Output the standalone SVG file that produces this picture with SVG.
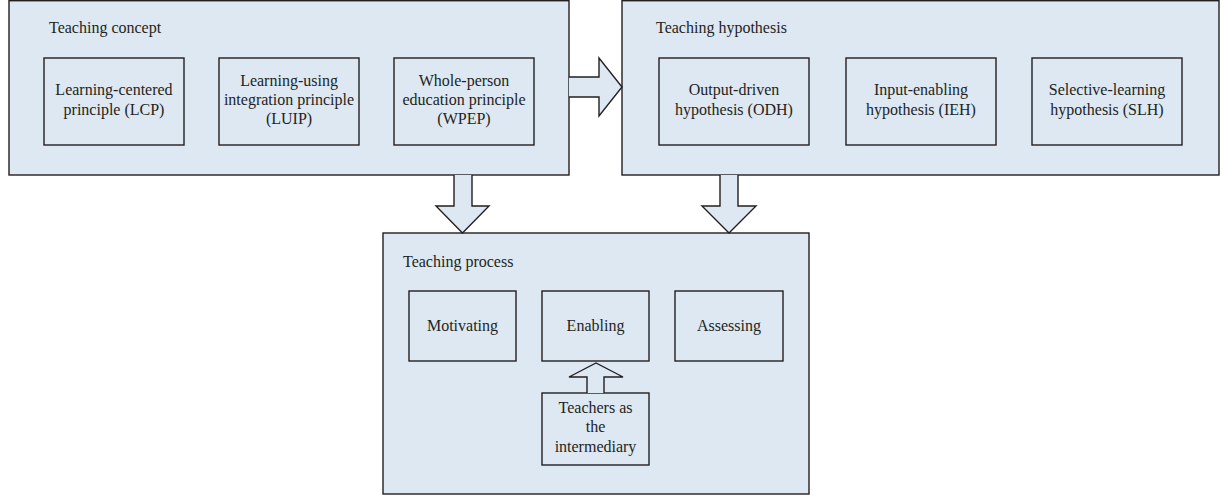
<svg xmlns="http://www.w3.org/2000/svg" width="1223" height="496" viewBox="0 0 1223 496">
  <style>
    .panel { fill: #dde8f3; stroke: #231f20; stroke-width: 1.4; }
    .item { fill: #dde8f3; stroke: #231f20; stroke-width: 1.4; }
    .arrow { fill: #dde8f3; stroke: #231f20; stroke-width: 1.4; stroke-linejoin: miter; }
    text { font-family: "Liberation Serif", "Times New Roman", serif; font-size: 16px; fill: #231f20; }
    .c { text-anchor: middle; }
  </style>
  <rect width="1223" height="496" fill="#ffffff"/>

  <!-- Teaching concept panel -->
  <g id="teaching-concept">
    <rect class="panel" x="9" y="0.7" width="560" height="174.3"/>
    <text x="49" y="33">Teaching concept</text>
    <g id="lcp">
      <rect class="item" x="44" y="58" width="140" height="87"/>
      <text class="c" x="114" y="95">Learning-centered</text>
      <text class="c" x="114" y="115">principle (LCP)</text>
    </g>
    <g id="luip">
      <rect class="item" x="219" y="58" width="140" height="87"/>
      <text class="c" x="289" y="86">Learning-using</text>
      <text class="c" x="289" y="105">integration principle</text>
      <text class="c" x="289" y="124">(LUIP)</text>
    </g>
    <g id="wpep">
      <rect class="item" x="394" y="58" width="140" height="87"/>
      <text class="c" x="464" y="86">Whole-person</text>
      <text class="c" x="464" y="105">education principle</text>
      <text class="c" x="464" y="124">(WPEP)</text>
    </g>
  </g>

  <!-- Teaching hypothesis panel -->
  <g id="teaching-hypothesis">
    <rect class="panel" x="622" y="0.7" width="597" height="174.3"/>
    <text x="656" y="33">Teaching hypothesis</text>
    <g id="odh">
      <rect class="item" x="659" y="58" width="150" height="87"/>
      <text class="c" x="734" y="95">Output-driven</text>
      <text class="c" x="734" y="115">hypothesis (ODH)</text>
    </g>
    <g id="ieh">
      <rect class="item" x="846" y="58" width="150" height="87"/>
      <text class="c" x="921" y="95">Input-enabling</text>
      <text class="c" x="921" y="115">hypothesis (IEH)</text>
    </g>
    <g id="slh">
      <rect class="item" x="1032" y="58" width="150" height="87"/>
      <text class="c" x="1107" y="95">Selective-learning</text>
      <text class="c" x="1107" y="115">hypothesis (SLH)</text>
    </g>
  </g>

  <!-- Teaching process panel -->
  <g id="teaching-process">
    <rect class="panel" x="383" y="233" width="426" height="261"/>
    <text x="403" y="267">Teaching process</text>
    <g id="motivating">
      <rect class="item" x="409" y="291" width="107" height="70"/>
      <text class="c" x="462.5" y="331">Motivating</text>
    </g>
    <g id="enabling">
      <rect class="item" x="542" y="291" width="107" height="70"/>
      <text class="c" x="595.5" y="331">Enabling</text>
    </g>
    <g id="assessing">
      <rect class="item" x="675" y="291" width="108" height="70"/>
      <text class="c" x="729" y="331">Assessing</text>
    </g>
    <g id="teachers">
      <rect class="item" x="542" y="393" width="107" height="72"/>
      <text class="c" x="595.5" y="413">Teachers as</text>
      <text class="c" x="595.5" y="432">the</text>
      <text class="c" x="595.5" y="452">intermediary</text>
    </g>
  </g>

  <!-- Block arrows -->
  <g id="connectors">
    <!-- concept to hypothesis -->
    <path class="arrow" d="M569,77 L599,77 L599,58 L622,87 L599,116 L599,97 L569,97"/>
    <!-- concept to process -->
    <path class="arrow" d="M454,175 L454,206 L436,206 L462.5,233 L489,206 L472,206 L472,175"/>
    <!-- hypothesis to process -->
    <path class="arrow" d="M720,175 L720,206 L702,206 L729,233 L756,206 L738,206 L738,175"/>
    <!-- teachers to enabling -->
    <path class="arrow" d="M587,393 L587,377 L569,377 L596,363 L623,377 L604,377 L604,393"/>
  </g>
</svg>
